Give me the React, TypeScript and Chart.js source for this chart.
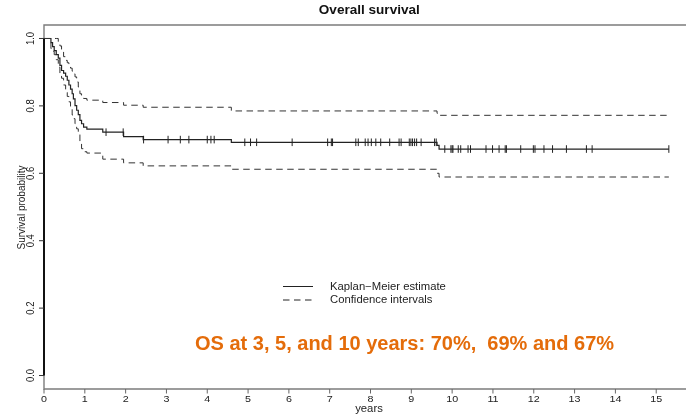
import { useEffect, useRef } from 'react';
import { Chart, registerables } from 'chart.js';

Chart.register(...registerables);

// Kaplan-Meier overall survival: event times (years) and estimates after each event
const eventYears = [0.17, 0.21, 0.25, 0.30, 0.35, 0.39, 0.43, 0.48, 0.53, 0.57, 0.61, 0.65, 0.69, 0.72, 0.76, 0.80, 0.84, 0.88, 0.92, 0.97, 1.05, 1.44, 1.95, 2.43, 4.59, 9.63, 9.68];
const survival = [0.988, 0.976, 0.964, 0.952, 0.942, 0.920, 0.905, 0.897, 0.888, 0.876, 0.862, 0.850, 0.836, 0.821, 0.801, 0.787, 0.774, 0.757, 0.747, 0.737, 0.731, 0.722, 0.709, 0.700, 0.692, 0.683, 0.672];
const upperCI = [1, 1, 1, 1, 0.990, 0.978, 0.960, 0.946, 0.935, 0.928, 0.920, 0.912, 0.903, 0.895, 0.886, 0.871, 0.856, 0.836, 0.828, 0.822, 0.817, 0.810, 0.802, 0.796, 0.785, 0.778, 0.772];
const lowerCI = [0.970, 0.962, 0.952, 0.937, 0.915, 0.895, 0.882, 0.862, 0.840, 0.828, 0.812, 0.792, 0.773, 0.762, 0.747, 0.732, 0.717, 0.688, 0.673, 0.664, 0.660, 0.642, 0.631, 0.622, 0.612, 0.600, 0.589];

// censored observations (years)
const censorYears = [1.52, 1.94, 2.44, 3.04, 3.34, 3.55, 4.00, 4.09, 4.17, 4.92, 5.06, 5.21, 6.08, 6.95, 7.04, 7.07, 7.64, 7.70, 7.87, 7.94, 8.02, 8.13, 8.25, 8.47, 8.70, 8.75, 8.95, 8.99, 9.03, 9.08, 9.13, 9.24, 9.57, 9.61, 9.82, 9.97, 10.00, 10.02, 10.15, 10.21, 10.39, 10.45, 10.83, 10.99, 11.15, 11.30, 11.33, 11.68, 11.99, 12.03, 12.25, 12.46, 12.80, 13.29, 13.43, 15.31];

const followUpEnd = 15.31;
const xTickValues = [0, 1, 2, 3, 4, 5, 6, 7, 8, 9, 10, 11, 12, 13, 14, 15];
const yTickValues = [0, 0.2, 0.4, 0.6, 0.8, 1.0];

const titleText = 'Overall survival';
const xAxisTitle = 'years';
const yAxisTitle = 'Survival probability';
const legendItems = ['Kaplan\u2212Meier estimate', 'Confidence intervals'];
const noteText = 'OS at 3, 5, and 10 years: 70%,  69% and 67%';

const FONT = '"Liberation Sans", Arial, sans-serif';
const STRETCH = 1.13;
const DASH = [6.5, 4.5];

function stepPoints(values: number[]) {
  return [
    { x: 0, y: 1 },
    ...eventYears.map((t, i) => ({ x: t, y: values[i] })),
    { x: followUpEnd, y: values[values.length - 1] },
  ];
}

function survivalAt(t: number) {
  let s = 1;
  for (let i = 0; i < eventYears.length; i++) {
    if (eventYears[i] <= t) s = survival[i];
  }
  return s;
}

function drawText(
  ctx: CanvasRenderingContext2D,
  text: string,
  x: number,
  y: number,
  font: string,
  color: string,
  align: CanvasTextAlign = 'center',
  rotate = 0,
  sx = STRETCH
) {
  ctx.save();
  ctx.translate(x, y);
  ctx.scale(sx, 1);
  if (rotate) ctx.rotate(rotate);
  ctx.font = font;
  ctx.fillStyle = color;
  ctx.textAlign = align;
  ctx.textBaseline = 'middle';
  ctx.fillText(text, 0, 0);
  ctx.restore();
}

const survivalFrame = {
  id: 'survivalFrame',
  beforeDatasetsDraw(chart: any) {
    const { ctx, chartArea } = chart;
    const { left, top, right, bottom } = chartArea;
    const y = chart.scales.y;
    ctx.save();
    ctx.strokeStyle = '#7c7c7c';
    ctx.lineWidth = 1.4;
    ctx.beginPath();
    ctx.moveTo(right + 2, top);
    ctx.lineTo(left, top);
    ctx.lineTo(left, bottom);
    ctx.lineTo(right + 2, bottom);
    ctx.stroke();
    // y axis line spanning the tick range
    ctx.strokeStyle = '#111';
    ctx.lineWidth = 2;
    ctx.beginPath();
    ctx.moveTo(left, y.getPixelForValue(0));
    ctx.lineTo(left, y.getPixelForValue(1));
    ctx.stroke();
    ctx.restore();
  },
  afterDraw(chart: any) {
    const { ctx, chartArea } = chart;
    const { left, bottom } = chartArea;
    const xs = chart.scales.x;
    const ys = chart.scales.y;
    ctx.save();

    // y ticks
    ctx.strokeStyle = '#333';
    ctx.lineWidth = 1;
    yTickValues.forEach((v) => {
      const py = ys.getPixelForValue(v);
      ctx.beginPath();
      ctx.moveTo(left - 5, py);
      ctx.lineTo(left, py);
      ctx.stroke();
      drawText(ctx, v.toFixed(1), left - 12.5, py, `9.5px ${FONT}`, '#222', 'center', -Math.PI / 2);
    });

    // x ticks
    ctx.strokeStyle = '#666';
    xTickValues.forEach((v) => {
      const px = xs.getPixelForValue(v);
      ctx.beginPath();
      ctx.moveTo(px, bottom);
      ctx.lineTo(px, bottom + 4.5);
      ctx.stroke();
      drawText(ctx, String(v), px, bottom + 10.5, `9.5px ${FONT}`, '#222');
    });

    drawText(ctx, xAxisTitle, 369, 409.5, `10px ${FONT}`, '#222');
    drawText(ctx, yAxisTitle, 21.5, 207.5, `10px ${FONT}`, '#222', 'center', -Math.PI / 2);
    drawText(ctx, titleText, 369.3, 10.5, `bold 12px ${FONT}`, '#111');

    // legend
    ctx.strokeStyle = '#222';
    ctx.lineWidth = 1;
    ctx.beginPath();
    ctx.moveTo(283, 286.5);
    ctx.lineTo(313, 286.5);
    ctx.stroke();
    ctx.setLineDash(DASH);
    ctx.beginPath();
    ctx.moveTo(283, 300);
    ctx.lineTo(313, 300);
    ctx.stroke();
    ctx.setLineDash([]);
    drawText(ctx, legendItems[0], 330, 287, `10px ${FONT}`, '#222', 'left');
    drawText(ctx, legendItems[1], 330, 300, `10px ${FONT}`, '#222', 'left');

    drawText(ctx, noteText, 195, 344.5, `bold 20px ${FONT}`, '#E46C0A', 'left', 0, 1);
    ctx.restore();
  },
};

export default function App() {
  const canvasRef = useRef<HTMLCanvasElement | null>(null);

  useEffect(() => {
    if (!canvasRef.current) return;
    const chart = new Chart(canvasRef.current, {
      type: 'line',
      data: {
        datasets: [
          {
            label: 'Upper',
            data: stepPoints(upperCI),
            stepped: true,
            borderColor: '#333',
            borderWidth: 1,
            borderDash: DASH,
            pointRadius: 0,
            fill: false,
          },
          {
            label: 'Lower',
            data: stepPoints(lowerCI),
            stepped: true,
            borderColor: '#333',
            borderWidth: 1,
            borderDash: DASH,
            pointRadius: 0,
            fill: false,
          },
          {
            label: 'Kaplan-Meier',
            data: stepPoints(survival),
            stepped: true,
            borderColor: '#222',
            borderWidth: 1.2,
            pointRadius: 0,
            fill: false,
          },
          {
            label: 'Censored',
            data: censorYears.map((t) => ({ x: t, y: survivalAt(t) })),
            showLine: false,
            pointStyle: 'line',
            rotation: 90,
            pointRadius: 3.8,
            pointBorderWidth: 1,
            pointBorderColor: '#222',
            borderColor: '#222',
          } as any,
        ],
      },
      options: {
        responsive: false,
        animation: false,
        layout: { autoPadding: false, padding: { left: 44, top: 25, right: 0, bottom: 28 } },
        scales: {
          x: { type: 'linear', min: 0, max: 15.73, display: false },
          y: { type: 'linear', min: -0.04, max: 1.04, display: false },
        },
        plugins: {
          legend: { display: false },
          title: { display: false },
          tooltip: { enabled: false },
        },
        events: [],
      },
      plugins: [survivalFrame],
    });
    return () => chart.destroy();
  }, []);

  return (
    <div style={{ position: 'absolute', left: 0, top: 0, width: 686, height: 417, background: '#fff' }}>
      <canvas ref={canvasRef} width={686} height={417} style={{ display: 'block' }} />
    </div>
  );
}
